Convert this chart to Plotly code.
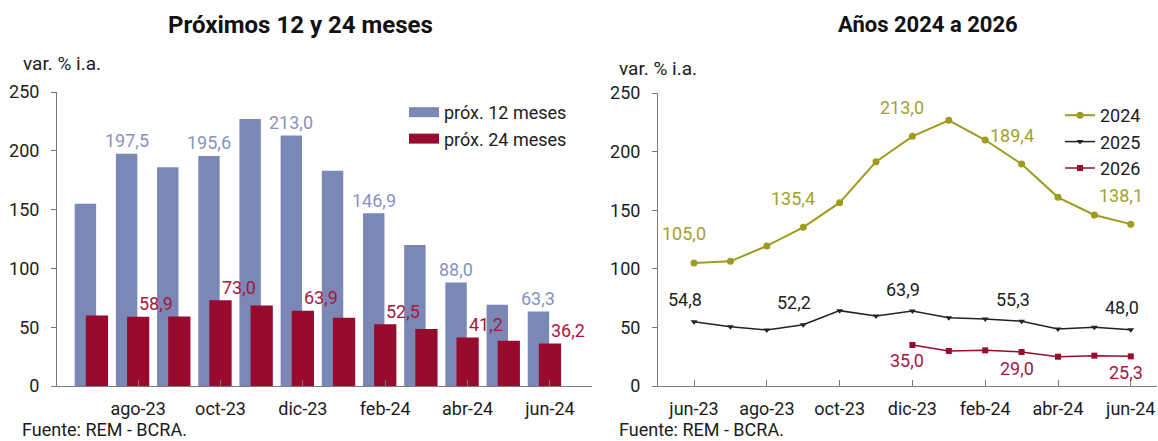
import plotly.graph_objects as go

# ---------------- data ----------------
meses_barras = ["jul-23", "ago-23", "sep-23", "oct-23", "nov-23", "dic-23",
                "ene-24", "feb-24", "mar-24", "abr-24", "may-24", "jun-24"]
prox12 = [155.0, 197.5, 186.0, 195.6, 227.0, 213.0, 183.0, 146.9, 120.0, 88.0, 69.0, 63.3]
prox24 = [60.0, 58.9, 59.0, 73.0, 68.5, 63.9, 58.0, 52.5, 48.5, 41.2, 38.5, 36.2]
barras_etiquetadas = [1, 3, 5, 7, 9, 11]

meses_lineas = ["jun-23", "jul-23", "ago-23", "sep-23", "oct-23", "nov-23", "dic-23",
                "ene-24", "feb-24", "mar-24", "abr-24", "may-24", "jun-24"]
v2024 = [105.0, 106.4, 119.5, 135.4, 156.4, 191.4, 213.0, 226.7, 209.9, 189.4, 161.0, 145.9, 138.1]
v2025 = [54.8, 50.6, 47.8, 52.2, 64.3, 59.7, 63.9, 58.3, 57.2, 55.3, 48.6, 50.1, 48.0]
v2026 = [None, None, None, None, None, None, 35.0, 29.9, 30.4, 29.0, 25.0, 25.9, 25.3]
lineas_etiquetadas = [0, 3, 6, 9, 12]
ticks_lineas = [0, 2, 4, 6, 8, 10, 12]

# ---------------- style ----------------
W, H = 1158, 441
FONT = "Roboto"
TXT = "#1c1c1c"
AX = "#7a7a7a"
BLUE = "#7b87b5"
BLUE_T = "#8793c0"
RED = "#980a2e"
RED_T = "#a5173f"
OLIVE = "#9e9b1e"
OLIVE_T = "#a3a12a"
BLACK = "#222222"


def px(x):
    return x / W


def py(y):
    return 1 - y / H


def fmt(v):
    return f"{v:.1f}".replace(".", ",")


fig = go.Figure()

xb = list(range(len(meses_barras)))
fig.add_trace(go.Bar(x=xb, y=prox12, offset=-0.54, width=0.52, marker_color=BLUE,
                     marker_line_width=0, showlegend=False, xaxis="x", yaxis="y"))
fig.add_trace(go.Bar(x=xb, y=prox24, offset=-0.27, width=0.54, marker_color=RED,
                     marker_line_width=0, showlegend=False, xaxis="x", yaxis="y"))

# legend entries for bars (wide swatches)
fig.add_trace(go.Scatter(x=[None], y=[None], mode="lines", line=dict(color=BLUE, width=13),
                         name="próx. 12 meses", legend="legend", xaxis="x", yaxis="y"))
fig.add_trace(go.Scatter(x=[None], y=[None], mode="lines", line=dict(color=RED, width=13),
                         name="próx. 24 meses", legend="legend", xaxis="x", yaxis="y"))

xl = list(range(len(meses_lineas)))
fig.add_trace(go.Scatter(x=xl, y=v2024, mode="lines+markers", name="2024",
                         line=dict(color=OLIVE, width=2), marker=dict(color=OLIVE, size=7, symbol="circle"),
                         legend="legend2", xaxis="x2", yaxis="y2"))
fig.add_trace(go.Scatter(x=xl, y=v2025, mode="lines+markers", name="2025",
                         line=dict(color=BLACK, width=1.5), marker=dict(color=BLACK, size=6, symbol="triangle-down"),
                         legend="legend2", xaxis="x2", yaxis="y2"))
fig.add_trace(go.Scatter(x=xl, y=v2026, mode="lines+markers", name="2026",
                         line=dict(color=RED, width=1.5), marker=dict(color=RED, size=6, symbol="square"),
                         legend="legend2", xaxis="x2", yaxis="y2"))

ann = []
lab_font = dict(family=FONT, size=18)
for i in barras_etiquetadas:
    ann.append(dict(x=i - 0.28, y=prox12[i], xref="x", yref="y", text=fmt(prox12[i]),
                    showarrow=False, yanchor="middle", yshift=13,
                    font=dict(lab_font, color=BLUE_T)))
    ann.append(dict(x=i, y=prox24[i], xref="x", yref="y", text=fmt(prox24[i]),
                    showarrow=False, yanchor="middle", yshift=13, xshift=18,
                    font=dict(lab_font, color=RED_T)))
for i in lineas_etiquetadas:
    ann.append(dict(x=i, y=v2024[i], xref="x2", yref="y2", text=fmt(v2024[i]),
                    showarrow=False, yanchor="middle", yshift=29, xshift=-10,
                    font=dict(lab_font, color=OLIVE_T)))
    ann.append(dict(x=i, y=v2025[i], xref="x2", yref="y2", text=fmt(v2025[i]),
                    showarrow=False, yanchor="middle", yshift=22, xshift=-9,
                    font=dict(lab_font, color=BLACK)))
    if v2026[i] is not None:
        ann.append(dict(x=i, y=v2026[i], xref="x2", yref="y2", text=fmt(v2026[i]),
                        showarrow=False, yanchor="middle", yshift=-16, xshift=-5,
                        font=dict(lab_font, color=RED_T)))

# titles and notes
ann += [
    dict(x=px(300), y=py(25), xref="paper", yref="paper", text="<b>Próximos 12 y 24 meses</b>",
         showarrow=False, xanchor="center", yanchor="middle", font=dict(family=FONT, size=24, color="#111")),
    dict(x=px(928), y=py(25), xref="paper", yref="paper", text="<b>Años 2024 a 2026</b>",
         showarrow=False, xanchor="center", yanchor="middle", font=dict(family=FONT, size=22, color="#111")),
    dict(x=px(21), y=py(64), xref="paper", yref="paper", text="var. % i.a.",
         showarrow=False, xanchor="left", yanchor="middle", font=dict(family=FONT, size=19, color=TXT)),
    dict(x=px(617), y=py(69), xref="paper", yref="paper", text="var. % i.a.",
         showarrow=False, xanchor="left", yanchor="middle", font=dict(family=FONT, size=19, color=TXT)),
    dict(x=px(20), y=py(429), xref="paper", yref="paper", text="Fuente: REM - BCRA.",
         showarrow=False, xanchor="left", yanchor="middle", font=dict(family=FONT, size=18, color=TXT)),
    dict(x=px(617), y=py(429), xref="paper", yref="paper", text="Fuente: REM - BCRA.",
         showarrow=False, xanchor="left", yanchor="middle", font=dict(family=FONT, size=18, color=TXT)),
]

tick_font = dict(family=FONT, size=18, color=TXT)
xaxis_common = dict(showline=True, linecolor=AX, linewidth=1, showgrid=False, zeroline=False,
                    ticks="inside", ticklen=6, tickcolor=AX, tickfont=tick_font,
                    ticklabelstandoff=6, fixedrange=True, automargin=False)
yaxis_common = dict(showline=True, linecolor=AX, linewidth=1, showgrid=False, zeroline=False,
                    ticks="outside", ticklen=5, tickcolor=AX, tickfont=tick_font,
                    range=[0, 250], tickvals=[0, 50, 100, 150, 200, 250],
                    ticklabelstandoff=8, fixedrange=True, automargin=False)

fig.update_layout(
    template="none",
    width=W, height=H, margin=dict(l=0, r=0, t=0, b=0, autoexpand=False),
    paper_bgcolor="white", plot_bgcolor="white",
    barmode="overlay",
    font=dict(family=FONT, color=TXT),
    xaxis=dict(xaxis_common, domain=[px(57), px(592)], range=[-0.97, 12.02],
               tickvals=barras_etiquetadas, ticktext=[meses_barras[i] for i in barras_etiquetadas],
               anchor="y"),
    yaxis=dict(yaxis_common, domain=[py(386), py(92)], anchor="x"),
    xaxis2=dict(xaxis_common, domain=[px(658), px(1157)], range=[-0.99, 12.72],
                tickvals=ticks_lineas,
                ticktext=[meses_lineas[i] for i in ticks_lineas],
                anchor="y2"),
    yaxis2=dict(yaxis_common, domain=[py(386), py(93)], anchor="x2"),
    annotations=ann,
    legend=dict(x=px(404), y=py(94), xanchor="left", yanchor="top",
                font=dict(family=FONT, size=18, color=TXT), bgcolor="rgba(0,0,0,0)",
                tracegroupgap=0),
    legend2=dict(x=px(1060), y=py(97), xanchor="left", yanchor="top",
                 font=dict(family=FONT, size=18, color=TXT), bgcolor="rgba(0,0,0,0)",
                 tracegroupgap=0),
)

fig.write_html("out.html", config={"displayModeBar": False, "staticPlot": True},
               post_script="document.body.style.margin='0px';document.body.style.overflow='hidden';")
